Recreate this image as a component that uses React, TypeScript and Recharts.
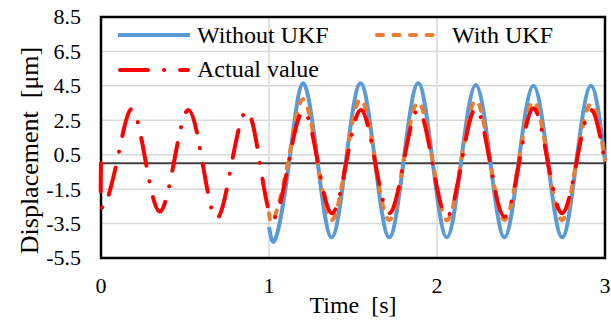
import React from "react";
import {
  LineChart,
  Line,
  XAxis,
  YAxis,
  CartesianGrid,
  ReferenceLine,
  ReferenceArea,
} from "recharts";

const SERIF = '"Liberation Serif", "Times New Roman", serif';

// Time [s] / displacement [um] read at peaks, troughs and mid crossings
const actualTime = [
  0, 0.012, 0.097, 0.183, 0.266, 0.35, 0.435, 0.52, 0.605, 0.689, 0.778, 0.867,
  0.946, 1.026, 1.116, 1.205, 1.29, 1.375, 1.461, 1.547, 1.631, 1.716, 1.802,
  1.888, 1.973, 2.059, 2.145, 2.231, 2.316, 2.402, 2.488, 2.574, 2.659, 2.745,
  2.831, 2.917, 3.0,
];
const actualValue = [
  0, -2.6, 0.2, 3.15, 0.1, -2.8, 0.1, 3.1, 0, -3.2, 0, 3.05, 0, -3.2, 0, 3.05,
  0.1, -2.9, 0.1, 3.1, 0.1, -2.9, 0.1, 3.1, 0, -3.1, 0, 3.2, 0, -3.1, 0, 3.2,
  0.1, -2.9, 0.1, 3.1, 0,
];

const withoutTime = [
  1.0, 1.042, 1.122, 1.202, 1.288, 1.373, 1.459, 1.545, 1.63, 1.716, 1.802,
  1.888, 1.973, 2.059, 2.145, 2.231, 2.316, 2.402, 2.488, 2.574, 2.659, 2.745,
  2.831, 2.917, 3.0,
];
const withoutValue = [
  -3.7, -4.3, 0.2, 4.65, 0.2, -4.3, 0.2, 4.65, 0.2, -4.3, 0.2, 4.65, 0.2, -4.3,
  0.2, 4.55, 0.2, -4.3, 0.2, 4.5, 0.2, -4.3, 0.2, 4.5, 0.2,
];

const withTime = [
  1.0, 1.03, 1.116, 1.202, 1.288, 1.373, 1.459, 1.545, 1.63, 1.716, 1.802,
  1.888, 1.973, 2.059, 2.145, 2.231, 2.316, 2.402, 2.488, 2.574, 2.659, 2.745,
  2.831, 2.917, 3.0,
];
const withValue = [
  -2.9, -3.2, 0.2, 3.73, 0.2, -3.3, 0.2, 3.73, 0.2, -3.3, 0.2, 3.55, 0.2, -3.3,
  0.2, 3.65, 0.2, -3.3, 0.2, 3.6, 0.2, -3.3, 0.2, 3.45, 0.2,
];

const xTicks = [0, 1, 2, 3];
const yTicks = [-5.5, -3.5, -1.5, 0.5, 2.5, 4.5, 6.5, 8.5];

const toRows = (time: number[], values: number[]) =>
  time.map((t, i) => ({ t, v: values[i] }));

const BLUE = "#5B9BD5";
const ORANGE = "#ED7D31";
const RED = "#FF0000";

function XTick({ x, y, payload }: any) {
  return (
    <text x={x} y={y} dy="0.71em" textAnchor="middle" fontFamily={SERIF} fontSize={22} fill="#000">
      {payload.value}
    </text>
  );
}

function YTick({ x, y, payload }: any) {
  return (
    <text x={x} y={y} dy="0.34em" textAnchor="end" fontFamily={SERIF} fontSize={22} fill="#000">
      {Number(payload.value).toFixed(1)}
    </text>
  );
}

function YTitle({ viewBox }: any) {
  const cx = 29;
  const cy = viewBox.y + viewBox.height / 2 + 13;
  return (
    <text
      x={cx}
      y={cy}
      transform={`rotate(-90 ${cx} ${cy})`}
      textAnchor="middle"
      dominantBaseline="central"
      fontFamily={SERIF}
      fontSize={26}
      fill="#000"
      style={{ whiteSpace: "pre" }}
    >
      {"Displacement  [μm]"}
    </text>
  );
}

function XTitle({ viewBox }: any) {
  const cx = viewBox.x + viewBox.width / 2;
  return (
    <text
      x={cx}
      y={313}
      textAnchor="middle"
      fontFamily={SERIF}
      fontSize={24}
      fill="#000"
      style={{ whiteSpace: "pre" }}
    >
      {"Time  [s]"}
    </text>
  );
}

function LegendOverlay() {
  const text = { fontFamily: SERIF, fontSize: 24, fill: "#000" };
  return (
    <svg
      width={611}
      height={320}
      style={{ position: "absolute", left: 0, top: 0, pointerEvents: "none" }}
    >
      <line x1={118} x2={190} y1={35} y2={35} stroke={BLUE} strokeWidth={4} />
      <text x={197} y={43} {...text}>Without UKF</text>
      <line
        x1={377}
        x2={443}
        y1={35}
        y2={35}
        stroke={ORANGE}
        strokeWidth={4}
        strokeLinecap="round"
        strokeDasharray="6 10.5"
      />
      <text x={452} y={43} {...text}>With UKF</text>
      <line
        x1={120}
        x2={188}
        y1={70}
        y2={70}
        stroke={RED}
        strokeWidth={4}
        strokeLinecap="round"
        strokeDasharray="28 16 0.1 16"
      />
      <text x={197} y={77} {...text}>Actual value</text>
    </svg>
  );
}

export default function App() {
  return (
    <div
      style={{
        position: "absolute",
        left: 0,
        top: 0,
        width: 611,
        height: 320,
        background: "#fff",
      }}
    >
      <LineChart width={611} height={320} margin={{ top: 17, right: 6, bottom: 0, left: 0 }}>
        <CartesianGrid stroke="#D9D9D9" strokeWidth={1.5} />
        <XAxis
          dataKey="t"
          type="number"
          domain={[0, 3]}
          ticks={xTicks}
          height={62}
          axisLine={false}
          tickLine={false}
          tickSize={6}
          tickMargin={13}
          tick={<XTick />}
          label={<XTitle />}
        />
        <YAxis
          type="number"
          domain={[-5.5, 8.5]}
          ticks={yTicks}
          width={101}
          axisLine={false}
          tickLine={false}
          tickSize={6}
          tickMargin={14}
          tick={<YTick />}
          label={<YTitle />}
        />
        <ReferenceLine y={0} stroke="#404040" strokeWidth={2} />
        <Line
          data={toRows(withoutTime, withoutValue)}
          dataKey="v"
          type="natural"
          stroke={BLUE}
          strokeWidth={4}
          dot={false}
          isAnimationActive={false}
        />
        <Line
          data={toRows(withTime, withValue)}
          dataKey="v"
          type="natural"
          stroke={ORANGE}
          strokeWidth={4}
          strokeLinecap="round"
          strokeDasharray="6 10.5"
          dot={false}
          isAnimationActive={false}
        />
        <Line
          data={toRows(actualTime, actualValue)}
          dataKey="v"
          type="natural"
          stroke={RED}
          strokeWidth={4}
          strokeLinecap="round"
          strokeDasharray="28 16 0.1 16"
          dot={false}
          isAnimationActive={false}
        />
        <ReferenceArea
          x1={0}
          x2={3}
          y1={-5.5}
          y2={8.5}
          fill="none"
          fillOpacity={0}
          stroke="#000"
          strokeWidth={2.5}
        />
      </LineChart>
      <LegendOverlay />
    </div>
  );
}
